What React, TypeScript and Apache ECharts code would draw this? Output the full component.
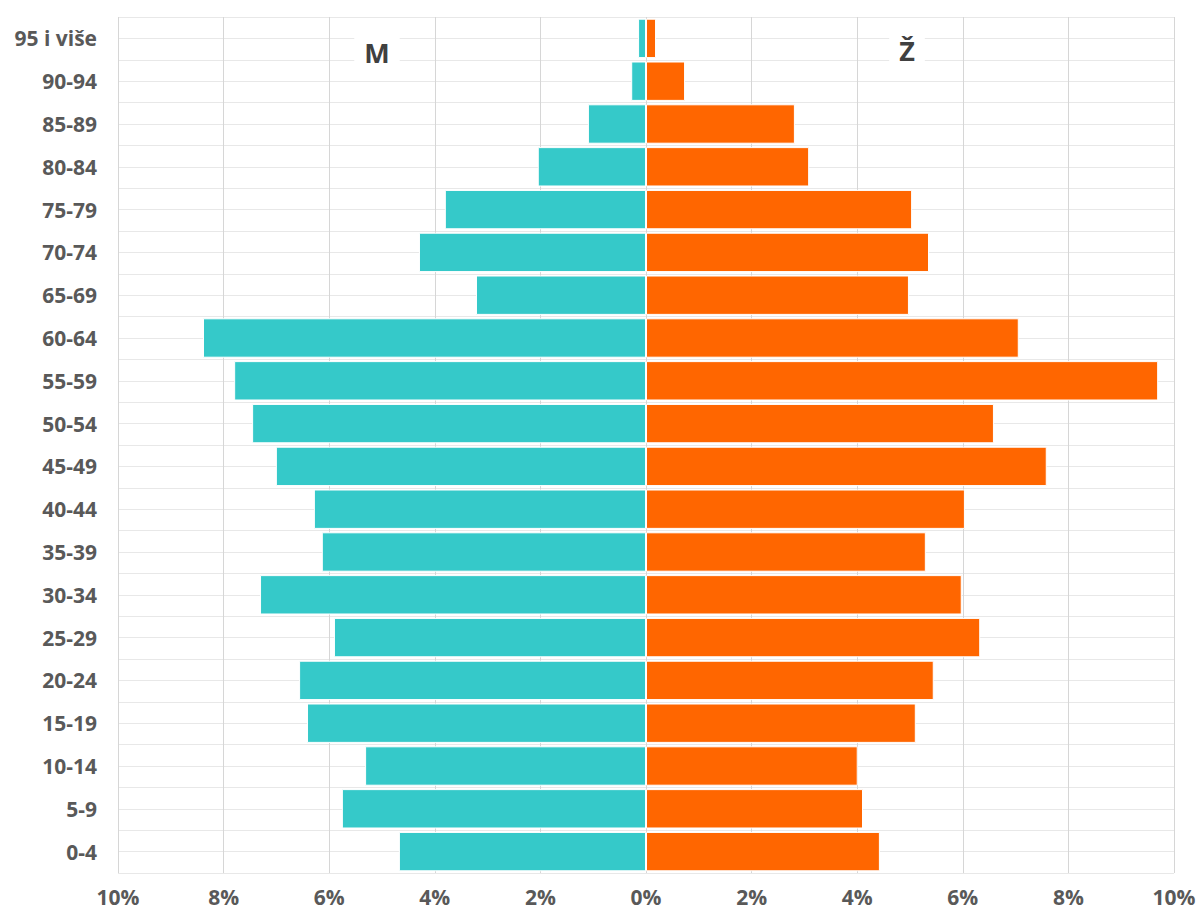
import React, { useEffect, useRef } from "react";
import * as echarts from "echarts";

const categories = [
  "0-4", "5-9", "10-14", "15-19", "20-24", "25-29", "30-34", "35-39", "40-44", "45-49",
  "50-54", "55-59", "60-64", "65-69", "70-74", "75-79", "80-84", "85-89", "90-94", "95 i više",
];

// percentage share, men (drawn to the left)
const maleValues = [
  4.68, 5.76, 5.32, 6.42, 6.57, 5.91, 7.31, 6.14, 6.29, 7.01,
  7.46, 7.80, 8.39, 3.22, 4.30, 3.81, 2.05, 1.10, 0.28, 0.15,
];

// percentage share, women (drawn to the right)
const femaleValues = [
  4.43, 4.11, 4.01, 5.11, 5.45, 6.33, 5.98, 5.30, 6.04, 7.59,
  6.59, 9.70, 7.06, 4.98, 5.36, 5.04, 3.09, 2.82, 0.74, 0.19,
];

const xTicks = [-10, -8, -6, -4, -2, 0, 2, 4, 6, 8, 10];

const FONT = "'Open Sans', 'Noto Sans', sans-serif";

export default function App() {
  const ref = useRef<HTMLDivElement>(null);

  useEffect(() => {
    if (!ref.current) return;
    const chart = echarts.init(ref.current, null, { renderer: "svg" });
    chart.setOption({
      animation: false,
      backgroundColor: "#ffffff",
      grid: { left: 118, right: 30, top: 17, bottom: 39, containLabel: false },
      xAxis: {
        type: "value",
        min: xTicks[0],
        max: xTicks[xTicks.length - 1],
        interval: 2,
        axisLine: { show: false },
        axisTick: { show: false },
        axisLabel: {
          margin: 13,
          color: "#595959",
          fontFamily: FONT,
          fontWeight: "bold",
          fontSize: 21,
          lineHeight: 21,
          formatter: (v: number) => Math.abs(v) + "%",
        },
        splitLine: { show: true, lineStyle: { color: "#d6d6d6", width: 1 } },
      },
      yAxis: [
        {
          type: "category",
          data: categories,
          axisLine: { show: false },
          axisTick: { show: false },
          splitLine: { show: false },
          axisLabel: {
            margin: 21,
            color: "#595959",
            fontFamily: FONT,
            fontWeight: "bold",
            fontSize: 21,
          },
        },
        {
          type: "value",
          min: 0,
          max: categories.length * 2,
          interval: 1,
          show: true,
          axisLine: { show: false },
          axisTick: { show: false },
          axisLabel: { show: false },
          splitLine: { show: true, lineStyle: { color: "#e8e8e8", width: 1 } },
        },
      ],
      series: [
        {
          name: "M",
          type: "bar",
          stack: "pop",
          yAxisIndex: 0,
          barCategoryGap: "8%",
          data: maleValues.map((v) => -v),
          itemStyle: { color: "#35c9c9", borderColor: "#ffffff", borderWidth: 1 },
        },
        {
          name: "Ž",
          type: "bar",
          stack: "pop",
          yAxisIndex: 0,
          barCategoryGap: "8%",
          data: femaleValues,
          itemStyle: { color: "#ff6600", borderColor: "#ffffff", borderWidth: 1 },
        },
      ],
      graphic: [
        {
          type: "text",
          x: 377,
          y: 52,
          z: 10,
          style: {
            text: "M",
            fill: "#404040",
            font: `bold 27px ${FONT}`,
            textAlign: "center",
            textVerticalAlign: "middle",
            backgroundColor: "#ffffff",
            padding: [3, 10],
          },
        },
        {
          type: "text",
          x: 907,
          y: 50,
          z: 10,
          style: {
            text: "Ž",
            fill: "#404040",
            font: `bold 27px ${FONT}`,
            textAlign: "center",
            textVerticalAlign: "middle",
            backgroundColor: "#ffffff",
            padding: [3, 10],
          },
        },
      ],
    });
    return () => chart.dispose();
  }, []);

  return (
    <div
      ref={ref}
      style={{ position: "absolute", left: 0, top: 0, width: 1204, height: 912 }}
    />
  );
}
